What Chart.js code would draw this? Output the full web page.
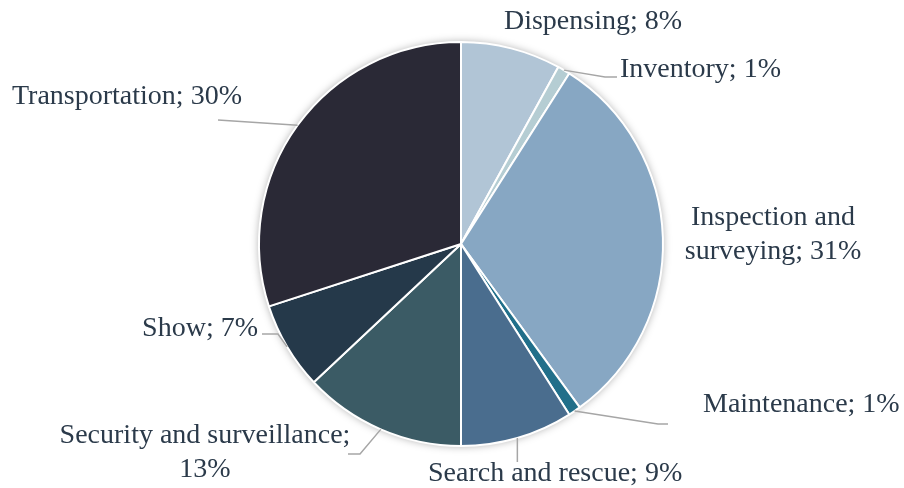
<!DOCTYPE html>
<html>
<head>
<meta charset="utf-8">
<script src="https://cdn.jsdelivr.net/npm/chart.js@4/dist/chart.umd.min.js"></script>
<style>
  html, body { margin: 0; padding: 0; background: #fff; }
  canvas { display: block; }
</style>
</head>
<body>
<canvas id="usesChart" width="904" height="488"></canvas>
<script>
// Share of drone uses (%), clockwise from 12 o'clock
const categories = [
  'Dispensing',
  'Inventory',
  'Inspection and surveying',
  'Maintenance',
  'Search and rescue',
  'Security and surveillance',
  'Show',
  'Transportation'
];
const shares = [8, 1, 31, 1, 9, 13, 7, 30];

const sliceColors = [
  '#B1C5D6', '#B5CDD3', '#87A7C3', '#216F8A',
  '#4A6D8E', '#3B5B65', '#25394A', '#2A2936'
];

// where each label sits (text baseline) and the bend points of its leader line
const labelLayout = [
  { x: 593, y: 29,  align: 'center' },
  { x: 620, y: 77,  align: 'left',   leader: [[605, 77], [617, 77]] },
  { x: 773, y: 225, align: 'center', split: 2 },
  { x: 703, y: 412, align: 'left',   leader: [[658, 424], [668, 424]] },
  { x: 428, y: 481, align: 'left',   leader: [[null, 462]] },
  { x: 205, y: 443, align: 'center', split: 3, leader: [[360, 454], [348, 454]] },
  { x: 258, y: 336, align: 'right',  leader: [[278, 334], [262, 334]] },
  { x: 12,  y: 104, align: 'left',   leader: [[218, 120]] }
];

const LABEL_FONT = '28px "Liberation Serif", serif';
const LABEL_COLOR = '#2B3A4A';
const LINE_HEIGHT = 34;

// soft drop shadow behind the whole pie
const pieShadow = {
  id: 'pieShadow',
  beforeDatasetsDraw(chart) {
    const arc = chart.getDatasetMeta(0).data[0];
    if (!arc) return;
    const ctx = chart.ctx;
    ctx.save();
    ctx.shadowColor = 'rgba(0, 0, 0, 0.35)';
    ctx.shadowBlur = 9;
    ctx.fillStyle = '#fff';
    ctx.beginPath();
    ctx.arc(arc.x, arc.y, arc.outerRadius, 0, Math.PI * 2);
    ctx.fill();
    ctx.restore();
  }
};

// category; value% labels with grey leader lines
const sliceLabels = {
  id: 'sliceLabels',
  afterDatasetsDraw(chart) {
    const ctx = chart.ctx;
    const arcs = chart.getDatasetMeta(0).data;
    ctx.save();
    arcs.forEach((arc, i) => {
      const pos = labelLayout[i];
      if (pos.leader) {
        const mid = (arc.startAngle + arc.endAngle) / 2;
        const sx = arc.x + Math.cos(mid) * arc.outerRadius;
        const sy = arc.y + Math.sin(mid) * arc.outerRadius;
        ctx.strokeStyle = '#A6A6A6';
        ctx.lineWidth = 1.5;
        ctx.beginPath();
        ctx.moveTo(sx, sy);
        pos.leader.forEach(([px, py]) => ctx.lineTo(px === null ? sx : px, py));
        ctx.stroke();
      }

      const text = `${categories[i]}; ${shares[i]}%`;
      let lines = [text];
      if (pos.split) {
        const words = text.split(' ');
        lines = [words.slice(0, pos.split).join(' '), words.slice(pos.split).join(' ')];
      }
      ctx.font = LABEL_FONT;
      ctx.fillStyle = LABEL_COLOR;
      ctx.textAlign = pos.align;
      ctx.textBaseline = 'alphabetic';
      lines.forEach((line, k) => ctx.fillText(line, pos.x, pos.y + k * LINE_HEIGHT));
    });
    ctx.restore();
  }
};

new Chart(document.getElementById('usesChart'), {
  type: 'pie',
  data: {
    labels: categories,
    datasets: [{
      data: shares,
      backgroundColor: sliceColors,
      borderColor: '#fff',
      borderWidth: 2
    }]
  },
  options: {
    responsive: false,
    animation: false,
    layout: { padding: { top: 41, bottom: 41, left: 18, right: 0 } },
    plugins: {
      legend: { display: false },
      tooltip: { enabled: false }
    }
  },
  plugins: [pieShadow, sliceLabels]
});
</script>
</body>
</html>
